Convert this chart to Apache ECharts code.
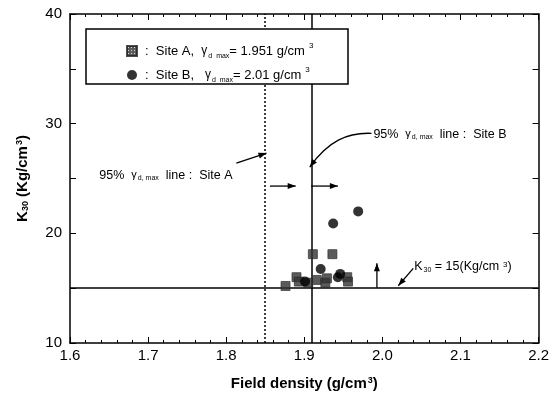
<!DOCTYPE html>
<html><head><meta charset="utf-8">
<script src="https://cdn.jsdelivr.net/npm/echarts@6/dist/echarts.min.js"></script>
<style>html,body{margin:0;padding:0;background:#fff}#c{width:552px;height:400px}</style>
</head><body><div id="c"></div>
<script>
// ---- data ----
const siteA_density = [1.876, 1.890, 1.893, 1.905, 1.911, 1.916, 1.927, 1.929, 1.936, 1.955, 1.956];
const siteA_k30     = [15.2, 16.0, 15.6, 15.5, 18.1, 15.75, 15.5, 15.9, 18.1, 16.0, 15.6];
const siteB_density = [1.901, 1.921, 1.943, 1.946, 1.937, 1.969];
const siteB_k30     = [15.6, 16.75, 16.0, 16.3, 20.9, 22.0];
const line95_siteA = 1.853;   // 0.95 * 1.951
const line95_siteB = 1.9095;  // 0.95 * 2.01
const k30_limit = 15;
const xTickValues = [1.6, 1.7, 1.8, 1.9, 2.0, 2.1, 2.2];
const yTickLabels = [10, 20, 30, 40];

const FONT = 'Liberation Sans, Arial, sans-serif';

// checker pattern for site A squares
const pc = document.createElement('canvas'); pc.width = 3; pc.height = 3;
const pg = pc.getContext('2d'); pg.fillStyle = '#333'; pg.fillRect(0,0,3,3);
pg.fillStyle = '#c8c8c8'; pg.fillRect(1,1,1,1);

const chart = echarts.init(document.getElementById('c'), null, {renderer:'canvas'});

const axisCommon = {
  type: 'value',
  axisLine: {show: true, onZero: false, lineStyle: {color: '#000', width: 1.5}},
  axisTick: {show: true, inside: true, length: 6, lineStyle: {color: '#000', width: 1}},
  splitLine: {show: false}
};

const subRich = {
  t: {fontSize: 15, fontWeight: 'bold', fontFamily: FONT, color: '#000'},
  sub: {fontSize: 9, fontWeight: 'bold', fontFamily: FONT, color: '#000', verticalAlign: 'bottom', padding: [6,0,0,0]},
  sup: {fontSize: 9, fontWeight: 'bold', fontFamily: FONT, color: '#000', verticalAlign: 'top', padding: [0,0,6,1]}
};

const legRich = {
  t: {fontSize: 13, fontFamily: FONT, color: '#000', lineHeight: 18},
  g: {fontSize: 12, fontFamily: FONT, color: '#000', lineHeight: 18},
  s: {fontSize: 7, fontFamily: FONT, color: '#000', lineHeight: 18, verticalAlign: 'bottom', padding:[0,0,0,1]},
  sup: {fontSize: 8, fontFamily: FONT, color: '#000', lineHeight: 18, verticalAlign: 'top', padding:[0,0,0,4]}
};

chart.setOption({
  animation: false,
  backgroundColor: '#fff',
  grid: {left: 70, right: 11, top: 14, bottom: 57},
  legend: {
    left: 121, top: 37, orient: 'vertical', itemGap: 6, itemWidth: 10, itemHeight: 10, z: 10,
    data: ['Site A', 'Site B'],
    formatter: function (n) {
      if (n === 'Site A') return '{t|:  Site A,  }{g|γ}{s|d  max}{t|= 1.951 g/cm}{sup|3}';
      return '{t|:  Site B,   }{g|γ}{s|d  max}{t|= 2.01 g/cm}{sup|3}';
    },
    textStyle: {rich: legRich, padding: [0,0,0,3]}
  },
  xAxis: [
    Object.assign({}, axisCommon, {
      min: xTickValues[0], max: xTickValues[xTickValues.length-1], interval: 0.1,
      minorTick: {show: true, splitNumber: 5, length: 3, lineStyle: {color: '#000'}},
      axisLabel: {formatter: v => v.toFixed(1), fontSize: 15, fontFamily: FONT, color: '#000', margin: 5},
      name: '{t|Field density (g/cm}{sup|3}{t|)}', nameLocation: 'middle', nameGap: 33,
      nameTextStyle: {rich: subRich}
    }),
    Object.assign({}, axisCommon, {
      position: 'top', min: 1.6, max: 2.2, interval: 0.1,
      minorTick: {show: true, splitNumber: 5, length: 3, lineStyle: {color: '#000'}},
      axisLabel: {show: false}
    })
  ],
  yAxis: [
    Object.assign({}, axisCommon, {
      min: yTickLabels[0], max: yTickLabels[yTickLabels.length-1], interval: 5,
      axisLabel: {formatter: v => (yTickLabels.indexOf(v) >= 0 ? String(v) : ''), fontSize: 15, fontFamily: FONT, color: '#000', margin: 8},
      name: '{t|K}{sub|30}{t| (Kg/cm}{sup|3}{t|)}', nameLocation: 'middle', nameGap: 40,
      nameTextStyle: {rich: subRich}
    }),
    Object.assign({}, axisCommon, {
      position: 'right', min: 10, max: 40, interval: 5, axisLabel: {show: false}
    })
  ],
  series: [
    {
      name: 'Site A', type: 'scatter', symbol: 'rect', symbolSize: 9, z: 3,
      itemStyle: {color: {image: pc, repeat: 'repeat'}, borderColor: '#222', borderWidth: 0.8},
      data: siteA_density.map((x, i) => [x, siteA_k30[i]]),
      markLine: {
        silent: true, symbol: 'none', label: {show: false}, z: 1,
        data: [
          {xAxis: line95_siteA, lineStyle: {type: [2, 2], color: '#000', width: 1.5}},
          {xAxis: line95_siteB, lineStyle: {type: 'solid', color: '#000', width: 1.5}},
          {yAxis: k30_limit, lineStyle: {type: 'solid', color: '#000', width: 1.5}}
        ]
      }
    },
    {
      name: 'Site B', type: 'scatter', symbol: 'circle', symbolSize: 10, z: 4,
      itemStyle: {color: '#000'},
      data: siteB_density.map((x, i) => [x, siteB_k30[i]])
    }
  ]
});

// ---- annotations positioned in data space ----
const P = (x, y) => chart.convertToPixel({gridIndex: 0}, [x, y]);

function head(tip, from, len, hw) {
  const dx = tip[0]-from[0], dy = tip[1]-from[1], d = Math.hypot(dx, dy);
  const ux = dx/d, uy = dy/d;
  const bx = tip[0]-ux*len, by = tip[1]-uy*len;
  return {type: 'polygon', z: 20, shape: {points: [tip, [bx-uy*hw, by+ux*hw], [bx+uy*hw, by-ux*hw]]}, style: {fill: '#000'}};
}
function arrow(a, b) {
  return [
    {type: 'line', z: 20, shape: {x1: a[0], y1: a[1], x2: b[0], y2: b[1]}, style: {stroke: '#000', lineWidth: 1.3}},
    head(b, a, 8, 3)
  ];
}
const annRich = {
  t: {fontSize: 12.5, fontFamily: FONT, fill: '#000'},
  g: {fontSize: 11, fontFamily: FONT, fill: '#000'},
  s: {fontSize: 7, fontFamily: FONT, fill: '#000', verticalAlign: 'bottom', padding: [5,0,0,1]},
  sup: {fontSize: 8, fontFamily: FONT, fill: '#000', verticalAlign: 'top', padding: [0,0,5,4]}
};
function label(p, text) {
  return {type: 'text', z: 20, x: p[0], y: p[1], style: {text: text, rich: annRich, fontSize: 12.5, fontFamily: FONT, fill: '#000', verticalAlign: 'middle', align: 'left'}};
}

const g = [];
// legend box
g.push({type: 'rect', z: 8, shape: {x: 86, y: 29, width: 262, height: 55}, style: {fill: '#fff', stroke: '#000', lineWidth: 1.5}});

g.push(label(P(1.6376, 25.31), '{t|95%  }{g|γ}{s|d, max}{t|  line :  Site A}'));
g.push(label(P(1.9885, 29.05), '{t|95%  }{g|γ}{s|d, max}{t|  line :  Site B}'));
g.push(label(P(2.0408, 16.93), '{t|K}{s|30}{t| = 15(Kg/cm}{sup|3}{t|)}'));

g.push(...arrow(P(1.813, 26.41), P(1.8516, 27.32)));
g.push(...arrow(P(1.856, 24.31), P(1.889, 24.31)));
g.push(...arrow(P(1.9087, 24.31), P(1.943, 24.31)));
g.push(...arrow(P(1.993, 15.04), P(1.993, 17.27)));
g.push(...arrow(P(2.0395, 16.81), P(2.0204, 15.22)));

// curved arrow for Site B line label
const cs = P(1.986, 29.12), ce = P(1.907, 26.04);
const c1 = [cs[0]-24, cs[1]-1], c2 = [ce[0]+18, ce[1]-26];
g.push({type: 'bezierCurve', z: 20, shape: {x1: cs[0], y1: cs[1], x2: ce[0], y2: ce[1], cpx1: c1[0], cpy1: c1[1], cpx2: c2[0], cpy2: c2[1]}, style: {stroke: '#000', lineWidth: 1.3, fill: null}});
g.push(head(ce, [ce[0]+6, ce[1]-8], 8, 3));

chart.setOption({graphic: {elements: g}});
</script></body></html>
